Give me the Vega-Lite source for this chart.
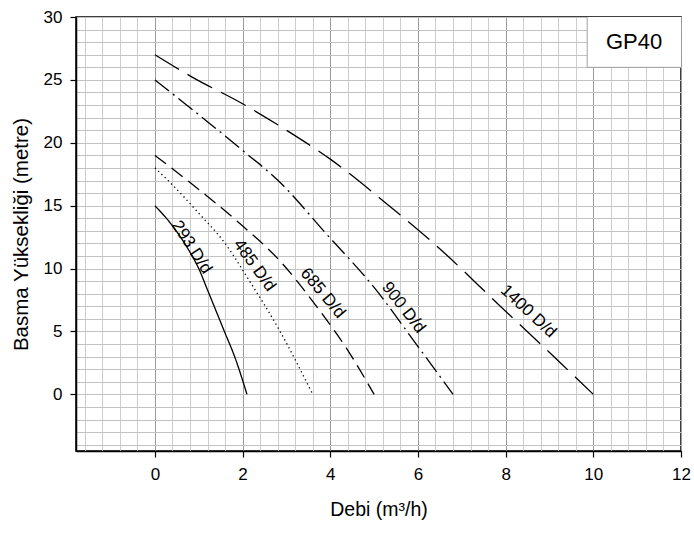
{
  "$schema": "https://vega.github.io/schema/vega-lite/v6.json",
  "width": 605,
  "height": 434,
  "autosize": "none",
  "padding": {"left": 76, "top": 17, "right": 13, "bottom": 82},
  "background": "white",
  "config": {
    "view": {"stroke": "#000000", "strokeWidth": 1.5},
    "font": "Liberation Sans"
  },
  "datasets": {
    "curves": [
      {"series": "293 D/d", "q": 0, "h": 15},
      {"series": "293 D/d", "q": 0.4, "h": 13.4},
      {"series": "293 D/d", "q": 0.8, "h": 11.3},
      {"series": "293 D/d", "q": 1.0, "h": 10.0},
      {"series": "293 D/d", "q": 1.2, "h": 8.3},
      {"series": "293 D/d", "q": 1.55, "h": 5.3},
      {"series": "293 D/d", "q": 1.85, "h": 2.7},
      {"series": "293 D/d", "q": 2.1, "h": 0},
      {"series": "485 D/d", "q": 0, "h": 18},
      {"series": "485 D/d", "q": 0.33, "h": 16.9},
      {"series": "485 D/d", "q": 1.0, "h": 14.4},
      {"series": "485 D/d", "q": 1.58, "h": 12.1},
      {"series": "485 D/d", "q": 2.15, "h": 9.06},
      {"series": "485 D/d", "q": 2.84, "h": 5.1},
      {"series": "485 D/d", "q": 3.6, "h": 0},
      {"series": "685 D/d", "q": 0, "h": 19},
      {"series": "685 D/d", "q": 0.78, "h": 16.9},
      {"series": "685 D/d", "q": 1.93, "h": 13.6},
      {"series": "685 D/d", "q": 2.84, "h": 10.65},
      {"series": "685 D/d", "q": 3.75, "h": 6.7},
      {"series": "685 D/d", "q": 4.4, "h": 3.5},
      {"series": "685 D/d", "q": 5, "h": 0},
      {"series": "900 D/d", "q": 0, "h": 25},
      {"series": "900 D/d", "q": 0.94, "h": 22.4},
      {"series": "900 D/d", "q": 2, "h": 19.4},
      {"series": "900 D/d", "q": 2.84, "h": 16.9},
      {"series": "900 D/d", "q": 3.9, "h": 12.8},
      {"series": "900 D/d", "q": 5.0, "h": 8.5},
      {"series": "900 D/d", "q": 5.96, "h": 4.0},
      {"series": "900 D/d", "q": 6.8, "h": 0},
      {"series": "1400 D/d", "q": 0, "h": 27},
      {"series": "1400 D/d", "q": 0.86, "h": 25.2},
      {"series": "1400 D/d", "q": 2, "h": 23.1},
      {"series": "1400 D/d", "q": 3, "h": 21.0},
      {"series": "1400 D/d", "q": 4, "h": 18.7},
      {"series": "1400 D/d", "q": 5.27, "h": 15.2},
      {"series": "1400 D/d", "q": 6.49, "h": 11.6},
      {"series": "1400 D/d", "q": 7.86, "h": 7.07},
      {"series": "1400 D/d", "q": 9.27, "h": 2.44},
      {"series": "1400 D/d", "q": 10, "h": 0}
    ],
    "labels": [
      {"series": "293 D/d", "q": 0.84, "h": 11.7},
      {"series": "485 D/d", "q": 2.27, "h": 10.25},
      {"series": "685 D/d", "q": 3.83, "h": 8.05},
      {"series": "900 D/d", "q": 5.67, "h": 6.9},
      {"series": "1400 D/d", "q": 8.52, "h": 6.6}
    ],
    "box": [
      {"q": 9.86, "q2": 12, "h": 26, "h2": 30, "qc": 10.93, "hc": 28.05, "name": "GP40"}
    ]
  },
  "encoding": {
    "x": {
      "field": "q",
      "type": "quantitative",
      "scale": {"domain": [-1.8, 12], "nice": false, "zero": false},
      "axis": {
        "title": "Debi (m³/h)",
        "titleFont": "Liberation Sans",
        "titleFontSize": 19.5,
        "titleFontWeight": "normal",
        "titleColor": "#000000",
        "titlePadding": 18,
        "labelFont": "Liberation Sans",
        "labelFontSize": 17,
        "labelColor": "#000000",
        "labelPadding": 9,
        "labelOverlap": false,
        "labelFlush": false,
        "labelBound": false,
        "values": [-1.6, -1.2, -0.8, -0.4, 0, 0.4, 0.8, 1.2, 1.6, 2, 2.4, 2.8, 3.2, 3.6, 4, 4.4, 4.8, 5.2, 5.6, 6, 6.4, 6.8, 7.2, 7.6, 8, 8.4, 8.8, 9.2, 9.6, 10, 10.4, 10.8, 11.2, 11.6, 12],
        "labelExpr": "datum.value % 2 === 0 ? format(datum.value, 'd') : ''",
        "grid": true,
        "gridColor": {"condition": {"test": "datum.value % 2 === 0", "value": "#9a9a9a"}, "value": "#cdcdcd"},
        "gridWidth": 1,
        "tickColor": "#000000",
        "tickSize": 6,
        "tickWidth": 1.2,
        "tickOpacity": {"condition": {"test": "datum.value % 2 === 0", "value": 1}, "value": 0},
        "domainColor": "#000000",
        "domainWidth": 1.5
      }
    },
    "y": {
      "field": "h",
      "type": "quantitative",
      "scale": {"domain": [-4.5, 30], "nice": false, "zero": false},
      "axis": {
        "title": "Basma Yüksekliği (metre)",
        "titleFont": "Liberation Sans",
        "titleFontSize": 20.5,
        "titleFontWeight": "normal",
        "titleColor": "#000000",
        "titlePadding": 12,
        "labelFont": "Liberation Sans",
        "labelFontSize": 17,
        "labelColor": "#000000",
        "labelPadding": 8,
        "labelOverlap": false,
        "labelFlush": false,
        "labelBound": false,
        "values": [-4, -3, -2, -1, 0, 1, 2, 3, 4, 5, 6, 7, 8, 9, 10, 11, 12, 13, 14, 15, 16, 17, 18, 19, 20, 21, 22, 23, 24, 25, 26, 27, 28, 29, 30],
        "labelExpr": "datum.value % 5 === 0 ? format(datum.value, 'd') : ''",
        "grid": true,
        "gridColor": "#c2c2c2",
        "gridWidth": 1,
        "tickColor": "#000000",
        "tickSize": 6,
        "tickWidth": 1.2,
        "tickOpacity": {"condition": {"test": "datum.value % 5 === 0", "value": 1}, "value": 0},
        "domainColor": "#000000",
        "domainWidth": 1.5
      }
    }
  },
  "layer": [
    {
      "data": {"name": "curves"},
      "mark": {"type": "line", "color": "#000000", "strokeWidth": 1.3, "interpolate": "monotone"},
      "encoding": {
        "detail": {"field": "series"},
        "strokeDash": {
          "field": "series",
          "type": "nominal",
          "scale": {
            "domain": ["293 D/d", "485 D/d", "685 D/d", "900 D/d", "1400 D/d"],
            "range": [[1, 0], [1.3, 3.2], [14, 7], [18, 5, 2, 5], [28, 10]]
          },
          "legend": null
        }
      }
    },
    {
      "data": {"name": "labels"},
      "transform": [{"filter": "datum.series === '293 D/d'"}],
      "mark": {"type": "text", "angle": 57, "fontSize": 17, "font": "Liberation Sans", "color": "#000000", "align": "center", "baseline": "middle"},
      "encoding": {"text": {"field": "series"}}
    },
    {
      "data": {"name": "labels"},
      "transform": [{"filter": "datum.series === '485 D/d'"}],
      "mark": {"type": "text", "angle": 54, "fontSize": 17, "font": "Liberation Sans", "color": "#000000", "align": "center", "baseline": "middle"},
      "encoding": {"text": {"field": "series"}}
    },
    {
      "data": {"name": "labels"},
      "transform": [{"filter": "datum.series === '685 D/d'"}],
      "mark": {"type": "text", "angle": 50, "fontSize": 17, "font": "Liberation Sans", "color": "#000000", "align": "center", "baseline": "middle"},
      "encoding": {"text": {"field": "series"}}
    },
    {
      "data": {"name": "labels"},
      "transform": [{"filter": "datum.series === '900 D/d'"}],
      "mark": {"type": "text", "angle": 52, "fontSize": 17, "font": "Liberation Sans", "color": "#000000", "align": "center", "baseline": "middle"},
      "encoding": {"text": {"field": "series"}}
    },
    {
      "data": {"name": "labels"},
      "transform": [{"filter": "datum.series === '1400 D/d'"}],
      "mark": {"type": "text", "angle": 43, "fontSize": 17, "font": "Liberation Sans", "color": "#000000", "align": "center", "baseline": "middle"},
      "encoding": {"text": {"field": "series"}}
    },
    {
      "data": {"name": "box"},
      "mark": {"type": "rect", "fill": "#ffffff", "stroke": null},
      "encoding": {
        "x": {"field": "q", "type": "quantitative"},
        "x2": {"field": "q2"},
        "y": {"field": "h", "type": "quantitative"},
        "y2": {"field": "h2"}
      }
    },
    {
      "data": {"name": "box"},
      "mark": {"type": "rule", "color": "#a0a0a0", "strokeWidth": 1},
      "encoding": {
        "x": {"field": "q", "type": "quantitative"},
        "y": {"field": "h", "type": "quantitative"},
        "y2": {"field": "h2"}
      }
    },
    {
      "data": {"name": "box"},
      "mark": {"type": "rule", "color": "#a0a0a0", "strokeWidth": 1},
      "encoding": {
        "x": {"field": "q", "type": "quantitative"},
        "x2": {"field": "q2"},
        "y": {"field": "h", "type": "quantitative"}
      }
    },
    {
      "data": {"name": "box"},
      "mark": {"type": "text", "fontSize": 22, "font": "Liberation Sans", "color": "#000000", "align": "center", "baseline": "middle"},
      "encoding": {
        "x": {"field": "qc", "type": "quantitative"},
        "y": {"field": "hc", "type": "quantitative"},
        "text": {"field": "name"}
      }
    }
  ]
}
